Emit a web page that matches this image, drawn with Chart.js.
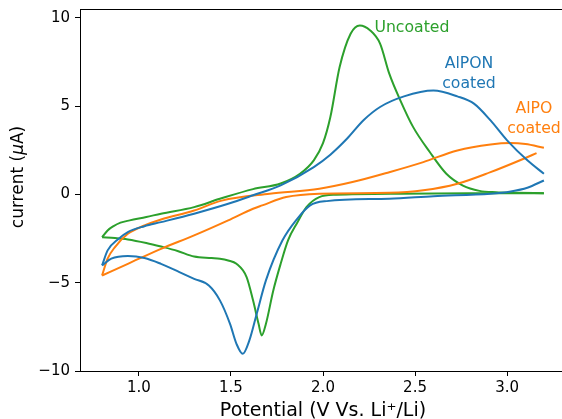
<!DOCTYPE html>
<html>
<head>
<meta charset="utf-8">
<script src="https://cdn.jsdelivr.net/npm/chart.js@4.4.0/dist/chart.umd.min.js"></script>
<style>
  html, body { margin: 0; padding: 0; overflow: hidden; background: #fff; }
  #wrap { width: 575px; height: 419px; }
  canvas { display: block; }
</style>
</head>
<body>
<div id="wrap"><canvas id="cv" width="575" height="419" style="width:575px;height:419px"></canvas></div>
<script>
// Cyclic voltammograms: potential (V vs Li+/Li) against current (uA)
const potentialTicks = [1.0, 1.5, 2.0, 2.5, 3.0];
const currentTicks = [-10, -5, 0, 5, 10];

// Uncoated electrode
const uncoatedAnodicV = [0.80, 0.83, 0.86, 0.90, 0.95, 1.04, 1.12, 1.30, 1.44, 1.62, 1.77, 1.875, 1.95, 2.00, 2.04, 2.09, 2.15, 2.20, 2.255, 2.31, 2.36, 2.42, 2.49, 2.58, 2.67, 2.76, 2.85, 2.94, 3.05, 3.20];
const uncoatedAnodicI = [-2.42, -2.04, -1.81, -1.60, -1.47, -1.28, -1.09, -0.72, -0.25, 0.30, 0.62, 1.17, 1.93, 2.90, 4.38, 7.20, 9.10, 9.57, 9.30, 8.54, 6.84, 5.33, 3.81, 2.40, 1.17, 0.50, 0.20, 0.12, 0.09, 0.07];
const uncoatedCathodicV = [3.20, 2.80, 2.42, 2.07, 1.98, 1.91, 1.86, 1.81, 1.77, 1.73, 1.69, 1.667, 1.65, 1.62, 1.585, 1.53, 1.485, 1.44, 1.395, 1.30, 1.21, 1.12, 1.04, 0.94, 0.87, 0.80];
const uncoatedCathodicI = [0.07, 0.06, 0.04, -0.02, -0.15, -0.72, -1.60, -2.60, -3.93, -5.44, -7.33, -7.99, -7.33, -6.00, -4.68, -3.93, -3.74, -3.64, -3.60, -3.52, -3.20, -2.95, -2.75, -2.55, -2.47, -2.42];

// AlPON coated electrode
const alponAnodicV = [0.80, 0.83, 0.89, 0.94, 1.03, 1.12, 1.30, 1.485, 1.62, 1.77, 1.95, 2.04, 2.13, 2.22, 2.31, 2.44, 2.60, 2.73, 2.82, 2.91, 3.00, 3.11, 3.20];
const alponAnodicI = [-4.02, -3.17, -2.51, -2.13, -1.80, -1.57, -1.09, -0.53, -0.05, 0.51, 1.55, 2.25, 3.15, 4.20, 4.95, 5.55, 5.88, 5.55, 5.14, 4.19, 3.06, 1.93, 1.17];
const alponCathodicV = [3.20, 3.11, 3.02, 2.91, 2.60, 2.36, 2.02, 1.93, 1.86, 1.78, 1.69, 1.64, 1.60, 1.564, 1.53, 1.495, 1.44, 1.38, 1.30, 1.22, 1.12, 1.03, 0.94, 0.85, 0.80];
const alponCathodicI = [0.79, 0.38, 0.17, 0.04, -0.10, -0.24, -0.38, -0.62, -1.38, -2.60, -4.87, -6.76, -8.27, -9.03, -8.46, -7.33, -6.00, -5.16, -4.78, -4.40, -3.93, -3.60, -3.49, -3.64, -4.02];

// AlPO coated electrode
const alpoAnodicV = [0.80, 0.83, 0.87, 0.94, 1.03, 1.12, 1.30, 1.45, 1.71, 1.98, 2.16, 2.36, 2.545, 2.73, 2.91, 3.02, 3.10, 3.20];
const alpoAnodicI = [-4.59, -3.64, -2.98, -2.23, -1.76, -1.42, -0.91, -0.35, 0.04, 0.32, 0.70, 1.26, 1.83, 2.49, 2.83, 2.91, 2.85, 2.64];
const alpoCathodicV = [3.16, 3.09, 2.91, 2.73, 2.545, 2.36, 1.98, 1.80, 1.67, 1.62, 1.485, 1.30, 1.12, 0.94, 0.80];
const alpoCathodicI = [2.34, 2.02, 1.26, 0.60, 0.23, 0.09, 0.04, -0.15, -0.62, -0.81, -1.47, -2.32, -3.08, -3.93, -4.59];

// Curve labels placed in data coordinates
const curveNames = [['Uncoated'], ['AlPON', 'coated'], ['AlPO', 'coated']];
const namePosV = [2.483, 2.793, 3.146];
const namePosI = [9.42, 6.83, 4.28];

const BLUE = '#1f77b4', ORANGE = '#ff7f0e', GREEN = '#2ca02c';
const nameColors = [GREEN, BLUE, ORANGE];
const FONT = "'DejaVu Sans', sans-serif";

function zipPoints(xs, ys) {
  return xs.map((x, i) => ({ x: x, y: ys[i] }));
}

function sweep(label, xs, ys, color) {
  return {
    label: label,
    data: zipPoints(xs, ys),
    showLine: true,
    borderColor: color,
    backgroundColor: color,
    borderWidth: 2,
    pointRadius: 0,
    cubicInterpolationMode: 'monotone',
    fill: false
  };
}

const decorations = {
  id: 'decorations',
  afterDraw(chart) {
    const ctx = chart.ctx;
    const area = chart.chartArea;
    const xs = chart.scales.x, ys = chart.scales.y;
    ctx.save();
    // top spine
    ctx.strokeStyle = '#000';
    ctx.lineWidth = 1;
    ctx.beginPath();
    ctx.moveTo(area.left, Math.round(area.top) + 0.5);
    ctx.lineTo(chart.width, Math.round(area.top) + 0.5);
    ctx.stroke();

    // curve names
    ctx.font = '15.7px ' + FONT;
    ctx.textAlign = 'center';
    ctx.textBaseline = 'middle';
    curveNames.forEach((lines, k) => {
      const cx = xs.getPixelForValue(namePosV[k]);
      const cy = ys.getPixelForValue(namePosI[k]);
      ctx.fillStyle = nameColors[k];
      const lh = 20;
      lines.forEach((t, j) => {
        ctx.fillText(t, cx, cy + (j - (lines.length - 1) / 2) * lh);
      });
    });

    // y axis title with italic mu
    ctx.fillStyle = '#000';
    ctx.translate(19, 177);
    ctx.rotate(-Math.PI / 2);
    const parts = [
      ['current (', '17px ' + FONT],
      ['\u03bc', 'italic 17px ' + FONT],
      ['A)', '17px ' + FONT]
    ];
    let total = 0;
    parts.forEach(p => { ctx.font = p[1]; total += ctx.measureText(p[0]).width; });
    let px = -total / 2;
    ctx.textAlign = 'left';
    parts.forEach(p => {
      ctx.font = p[1];
      ctx.fillText(p[0], px, 0);
      px += ctx.measureText(p[0]).width;
    });

    // x axis title
    ctx.setTransform(1, 0, 0, 1, 0, 0);
    ctx.fillStyle = '#000';
    ctx.font = '19px ' + FONT;
    ctx.textAlign = 'center';
    ctx.textBaseline = 'alphabetic';
    ctx.fillText('Potential (V Vs. Li\u207a/Li)', (xs.getPixelForValue(1.0) + xs.getPixelForValue(3.0)) / 2, 416);
    ctx.restore();
  }
};

new Chart(document.getElementById('cv'), {
  type: 'scatter',
  data: {
    datasets: [
      sweep('AlPON anodic', alponAnodicV, alponAnodicI, BLUE),
      sweep('AlPON cathodic', alponCathodicV, alponCathodicI, BLUE),
      sweep('AlPO anodic', alpoAnodicV, alpoAnodicI, ORANGE),
      sweep('AlPO cathodic', alpoCathodicV, alpoCathodicI, ORANGE),
      sweep('Uncoated anodic', uncoatedAnodicV, uncoatedAnodicI, GREEN),
      sweep('Uncoated cathodic', uncoatedCathodicV, uncoatedCathodicI, GREEN)
    ]
  },
  options: {
    responsive: false,
    devicePixelRatio: 1,
    animation: false,
    layout: { padding: { top: 9, right: 9, left: 0, bottom: 0 } },
    plugins: { legend: { display: false }, tooltip: { enabled: false } },
    scales: {
      x: {
        type: 'linear',
        min: 0.68,
        max: 3.32,
        afterBuildTicks(scale) { scale.ticks = potentialTicks.map(v => ({ value: v })); },
        afterFit(scale) { scale.height = 48; scale.paddingLeft = 0; scale.paddingRight = 0; },
        ticks: {
          color: '#000',
          font: { family: FONT, size: 15 },
          padding: 3,
          maxRotation: 0,
          callback: v => Number(v).toFixed(1)
        },
        grid: { drawOnChartArea: false, drawTicks: true, tickLength: 5, tickColor: '#000', tickWidth: 1 },
        border: { display: true, color: '#000', width: 1 }
      },
      y: {
        type: 'linear',
        min: -10,
        max: 10.5,
        afterBuildTicks(scale) { scale.ticks = currentTicks.map(v => ({ value: v })); },
        afterFit(scale) { scale.width = 80; scale.paddingTop = 0; scale.paddingBottom = 0; },
        ticks: {
          color: '#000',
          font: { family: FONT, size: 15 },
          padding: 5,
          callback: v => (v < 0 ? '\u2212' + Math.abs(v) : String(v))
        },
        grid: { drawOnChartArea: false, drawTicks: true, tickLength: 5, tickColor: '#000', tickWidth: 1 },
        border: { display: true, color: '#000', width: 1 }
      }
    }
  },
  plugins: [decorations]
});
</script>
</body>
</html>
